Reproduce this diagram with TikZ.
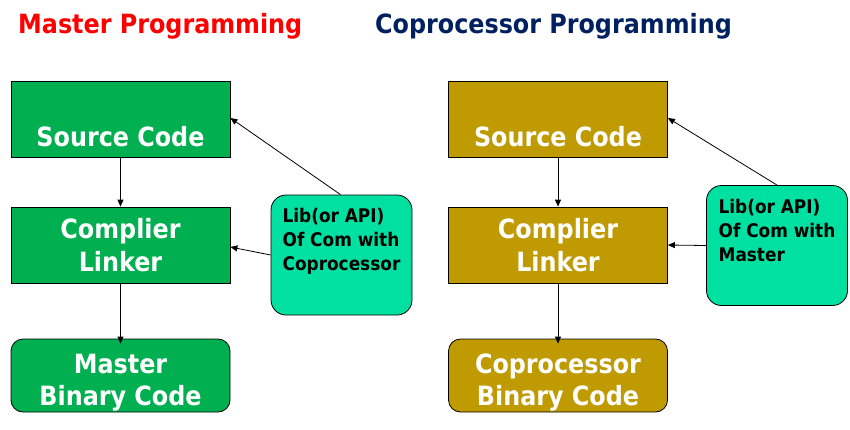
\documentclass[tikz,border=0pt]{standalone}
\usepackage{fontspec}
\newfontfamily\tf{DejaVu Sans Condensed Bold}
\usetikzlibrary{arrows.meta}
\definecolor{boxgreen}{HTML}{00B050}
\definecolor{boxgold}{HTML}{BF9A00}
\definecolor{libteal}{HTML}{00E0A0}
\definecolor{navy}{HTML}{002060}
\tikzset{
  mainbox/.style={draw=black, line width=0.8pt, minimum width=219pt, minimum height=76pt, inner sep=0pt,
    text=white, align=center, font=\tf\fontsize{26.5}{33}\selectfont},
  binbox/.style={draw=black, line width=0.8pt, minimum width=219pt, minimum height=73pt, inner sep=0pt,
    rounded corners=12pt},
  bintext/.style={text=white, align=center, font=\tf\fontsize{26.5}{32}\selectfont, yshift=-7pt},
  libbox/.style={draw=black, line width=0.8pt, fill=libteal, rounded corners=15pt, minimum width=141pt,
    minimum height=120pt, inner sep=0pt, align=left, font=\tf\fontsize{18.8}{24}\selectfont},
  arr/.style={line width=0.8pt, -{Triangle[length=7pt,width=6pt]}},
  title/.style={anchor=base west, inner sep=0pt, font=\tf\fontsize{26.5}{30}\selectfont}
}
\begin{document}
\begin{tikzpicture}[x=1pt,y=-1pt]
\useasboundingbox (0,0) rectangle (850,429);
\node[title, text=red] (t1) at (18,33) {Master Programming};
\node[title, text=navy] (t2) at (375,33) {Coprocessor Programming};
% left
\node[mainbox, fill=boxgreen] (s1) at (120.5,119) {\strut\\Source Code};
\node[mainbox, fill=boxgreen] (c1) at (120.5,245) {Complier\\Linker};
\node[binbox, fill=boxgreen, label={[bintext]center:Master\\Binary Code}] (b1) at (120.5,375.5) {};
\node[libbox] (l1) at (341.5,255) {Lib(or API)\\Of Com with\\Coprocessor\\\strut};
\draw[arr] (s1.south) -- (c1.north);
\draw[arr] (c1.south) -- ([yshift=-5pt]b1.north);
\draw[arr] ([xshift=-1pt]l1.north) -- ([yshift=1pt]s1.east);
\draw[arr] (l1.west) -- ([yshift=-2pt]c1.east);
% right
\node[mainbox, fill=boxgold] (s2) at (558,119) {\strut\\Source Code};
\node[mainbox, fill=boxgold] (c2) at (558,245) {Complier\\Linker};
\node[binbox, fill=boxgold, label={[bintext]center:Coprocessor\\Binary Code}] (b2) at (558,375.5) {};
\node[libbox] (l2) at (777,245.5) {Lib(or API)\\Of Com with\\Master\\\strut};
\draw[arr] (s2.south) -- (c2.north);
\draw[arr] (c2.south) -- ([yshift=-5pt]b2.north);
\draw[arr] (l2.north) -- ([yshift=1pt]s2.east);
\draw[arr] (l2.west) -- (c2.east);
\end{tikzpicture}
\end{document}
